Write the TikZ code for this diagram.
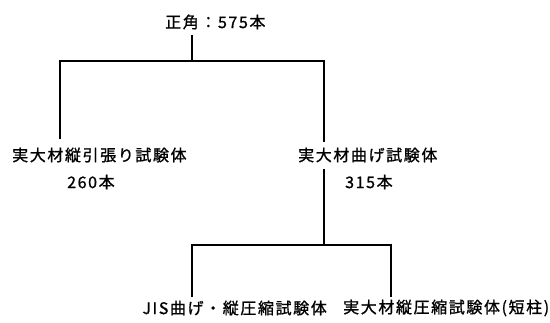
\documentclass[tikz,border=0pt]{standalone}
\usepackage{fontspec}
\setmainfont{Noto Sans CJK JP}[LetterSpace=10, FakeBold=1]
\begin{document}
\begin{tikzpicture}[x=1pt,y=-1pt,
  lbl/.style={inner sep=0pt, font=\fontsize{16}{18}\selectfont},
  conn/.style={line width=1.6pt}]
\useasboundingbox (0,0) rectangle (550,322);
\node[lbl, anchor=west] (root) at (165,22) {正角：575本};
\node[lbl, anchor=west] (tens) at (12,155) {実大材縦引張り試験体};
\node[lbl, anchor=west] (tensn) at (67,182) {260本};
\node[lbl, anchor=west] (bend) at (298,155) {実大材曲げ試験体};
\node[lbl, anchor=west] (bendn) at (345,182) {315本};
\node[lbl, anchor=east] (jis) at (327,308) {JIS曲げ・縦圧縮試験体};
\node[lbl, anchor=west] (short) at (343,308) {実大材縦圧縮試験体(短柱)};
\coordinate (jr) at (192,61);
\coordinate (jl) at (60,61);
\coordinate (jb) at (324,61);
\coordinate (jb2) at (324,245);
\coordinate (jl2) at (192,245);
\coordinate (jr2) at (391,245);
\draw[conn] ([yshift=-5pt]root.south -| jr) -- (jr);
\draw[conn] ([yshift=8pt]tens.north -| jl) -- (jl) -- (jb) -- ([yshift=5pt]bend.north -| jb);
\draw[conn] ([yshift=-6pt]bend.south -| jb2) -- (jb2);
\draw[conn] ([yshift=3pt]jis.north -| jl2) -- (jl2) -- (jr2) -- ([yshift=3pt]short.north -| jr2);
\end{tikzpicture}
\end{document}
